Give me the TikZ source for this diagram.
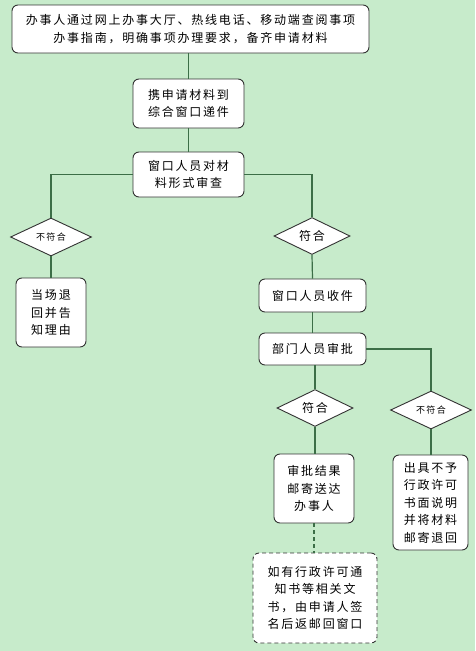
\documentclass[tikz,border=0pt]{standalone}
\usepackage{fontspec}
\setmainfont{Noto Sans CJK SC}[LetterSpace=15]
\usetikzlibrary{shapes.geometric}
\definecolor{bgc}{HTML}{C7EBCB}
\definecolor{linec}{HTML}{3C6E47}
\definecolor{boxc}{HTML}{333333}
\tikzset{
  box/.style={draw=boxc, line width=0.9pt, fill=white, rounded corners=6pt, align=center, inner sep=0pt, font=\fontsize{12}{17.5}\selectfont},
  dia/.style={draw=boxc, line width=0.9pt, fill=white, diamond, inner sep=0pt, align=center, font=\fontsize{12}{14}\selectfont},
  smalltxt/.style={font=\fontsize{9}{10}\selectfont},
  conn/.style={draw=linec, line width=1.2pt},
  dconn/.style={draw=linec, line width=1.2pt, dash pattern=on 4pt off 3pt}
}
\begin{document}
\begin{tikzpicture}[x=1pt,y=-1pt]
\fill[bgc] (0,0) rectangle (475,651);
\useasboundingbox (0,0) rectangle (475,651);
\node[box, minimum width=357pt, minimum height=48pt] (b1) at (190.5,29) {办事人通过网上办事大厅、热线电话、移动端查阅事项\\办事指南，明确事项办理要求，备齐申请材料};
\node[box, minimum width=111pt, minimum height=49pt] (b2) at (188.5,103.5) {携申请材料到\\综合窗口递件};
\node[box, minimum width=111pt, minimum height=45pt] (b3) at (188.5,174.5) {窗口人员对材\\料形式审查};
\node[dia, smalltxt, minimum width=81pt, minimum height=36pt] (d1) at (51,237) {不符合};
\node[dia, minimum width=76pt, minimum height=34pt] (d2) at (312,236) {符合};
\node[box, minimum width=70pt, minimum height=69pt] (b4) at (51,312.5) {当场退\\回并告\\知理由};
\node[box, minimum width=107pt, minimum height=33pt] (b5) at (312.5,295.5) {窗口人员收件};
\node[box, minimum width=107pt, minimum height=32pt] (b6) at (312.5,349) {部门人员审批};
\node[dia, minimum width=76pt, minimum height=33pt] (d3) at (315,408) {符合};
\node[dia, smalltxt, minimum width=81pt, minimum height=34pt] (d4) at (431,410) {不符合};
\node[box, minimum width=80pt, minimum height=69pt] (b7) at (314,488.5) {审批结果\\邮寄送达\\办事人};
\node[box, minimum width=75pt, minimum height=95pt] (b8) at (430.5,502.5) {出具不予\\行政许可\\书面说明\\并将材料\\邮寄退回};
\node[box, dash pattern=on 4pt off 3pt, minimum width=124pt, minimum height=90pt] (b9) at (315,598) {如有行政许可通\\知书等相关文\\书，由申请人签\\名后返邮回窗口};
\draw[conn] (b2.north) -- (b2.north |- b1.south);
\draw[conn] (b2.south) -- (b3.north);
\draw[conn] (b3.west) -| (d1.north);
\draw[conn] (b3.east) -| (d2.north);
\draw[conn] (d1.south) -- (b4.north);
\draw[conn] (d2.south) -- (b5.north);
\draw[conn] (b5.south) -- (b6.north);
\draw[conn] (b6.east) -| (d4.north);
\draw[conn] (d3.north) -- (d3.north |- b6.south);
\draw[conn] (d3.south) -- (d3.south |- b7.north);
\draw[conn] (d4.south) -- (d4.south |- b8.north);
\draw[dconn] (b7.south) -- (b7.south |- b9.north);
\end{tikzpicture}
\end{document}
